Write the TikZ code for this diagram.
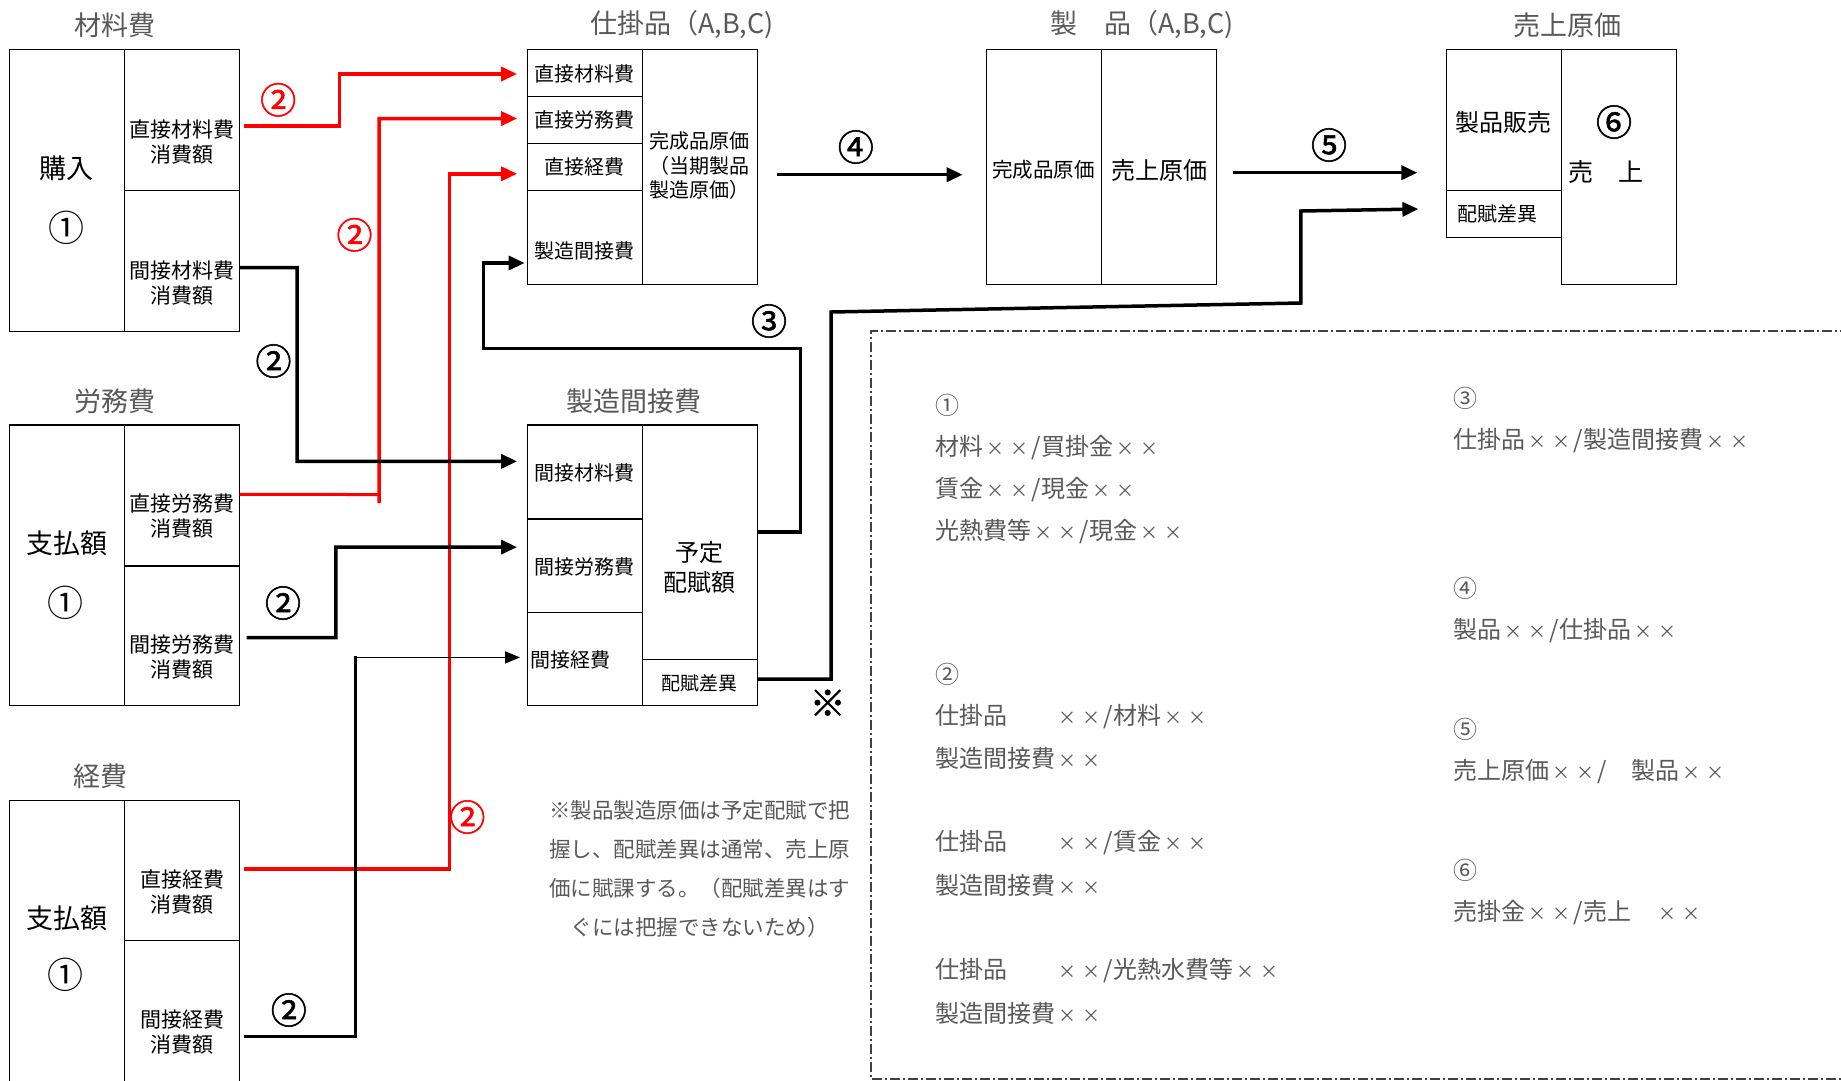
\documentclass[tikz,border=0pt]{standalone}
\usepackage{fontspec}
\newfontfamily\jp{Noto Sans CJK JP}
\newfontfamily\jpb[FakeBold=1.5]{Noto Sans CJK JP}
\usetikzlibrary{arrows.meta,calc}
\definecolor{txtgray}{HTML}{595959}
\definecolor{jred}{HTML}{FF0000}
\definecolor{boxline}{HTML}{404040}
\newcommand{\xx}{\makebox[1em]{\fontsize{18}{20}\selectfont ×}}
\newcommand{\fs}[2]{\fontsize{#1}{#2}\selectfont}
\newcommand{\cellbox}[5]{\node[cell, minimum width={#4-#2}, minimum height={#5-#3}] (#1) at (#2,#3) {};}
\begin{document}
\begin{tikzpicture}[x=1pt,y=-1pt,
  cell/.style={draw, line width=1.2pt, inner sep=0pt, outer sep=0pt, anchor=north west},
  ttl/.style={text=txtgray, font=\jp\fs{27}{32}, inner sep=0pt},
  lbl/.style={font=\jp\fs{21}{25}, align=center, inner sep=0pt},
  big/.style={font=\jp\fs{27}{32}, inner sep=0pt},
  num/.style={font=\jpb\fs{36}{38}, inner sep=0pt},
  rnum/.style={num, text=jred},
  flow/.style={line width=3.5pt, -{Triangle[length=16pt,width=14pt]}},
  rflow/.style={flow, draw=jred},
  thinflow/.style={line width=1.2pt, -{Triangle[length=15pt,width=12pt]}},
  plain/.style={line width=3.5pt},
  rplain/.style={line width=3pt, draw=jred},
  jrnl/.style={anchor=west, text=txtgray, font=\jp\fs{24}{28}, inner sep=0pt},
  dashdot/.style={line width=1.3pt, draw=boxline, dash pattern=on 10pt off 3pt on 2pt off 3pt},
]
\fill[white] (0,0) rectangle (1841,1080);
\useasboundingbox (0,0) rectangle (1841,1080);

% ---------------- boxes ----------------
% 材料費
\cellbox{m1}{9.4}{49.3}{124.4}{331.1}
\cellbox{m2}{124.4}{49.3}{239.5}{190.2}
\cellbox{m3}{124.4}{190.2}{239.5}{331.1}
% 労務費
\cellbox{r1}{9.4}{425}{124.4}{705.6}
\cellbox{r2}{124.4}{425}{239.5}{565.9}
\cellbox{r3}{124.4}{565.9}{239.5}{705.6}
% 経費
\cellbox{k1}{9.4}{800.7}{124.4}{1084}
\cellbox{k2}{124.4}{800.7}{239.5}{940.4}
\cellbox{k3}{124.4}{940.4}{239.5}{1084}
% 仕掛品
\cellbox{w1}{527.1}{49.3}{642.2}{96.3}
\cellbox{w2}{527.1}{96.3}{642.2}{143.2}
\cellbox{w3}{527.1}{143.2}{642.2}{190.2}
\cellbox{w4}{527.1}{190.2}{642.2}{284.1}
\cellbox{w5}{642.2}{49.3}{757.2}{284.1}
% 製造間接費
\cellbox{o1}{527.1}{425}{642.2}{518.9}
\cellbox{o2}{527.1}{518.9}{642.2}{612.8}
\cellbox{o3}{527.1}{612.8}{642.2}{705.6}
\cellbox{o4}{642.2}{425}{757.2}{659.8}
\cellbox{o5}{642.2}{659.8}{757.2}{705.6}
% 製品
\cellbox{p1}{986.2}{49.3}{1101.2}{284.1}
\cellbox{p2}{1101.2}{49.3}{1216.3}{284.1}
% 売上原価
\cellbox{s1}{1446.4}{49.3}{1561.4}{190.2}
\cellbox{s2}{1446.4}{190.2}{1561.4}{237.1}
\cellbox{s3}{1561.4}{49.3}{1676.5}{284.1}

% ---------------- titles ----------------
\node[ttl] (t1) at (115,25) {材料費};
\node[ttl, anchor=west] (t2) at (590,25) {仕掛品（A,B,C)};
\node[ttl, anchor=west] (t3) at (1050,25) {製　品（A,B,C)};
\node[ttl] (t4) at (1567,25) {売上原価};
\node[ttl] (t5) at (115,401) {労務費};
\node[ttl] (t6) at (634,401) {製造間接費};
\node[ttl] (t7) at (100,776) {経費};

% ---------------- box texts ----------------
\node[big] (m1a) at (66.9,168) {購入};
\node[big, font=\jp\fs{36}{38}] (m1b) at (66.9,228) {①};
\node[lbl] (m2a) at (182,142.5) {直接材料費\\消費額};
\node[lbl] (m3a) at (182,283.5) {間接材料費\\消費額};
\node[big] (r1a) at (66.9,543) {支払額};
\node[big, font=\jp\fs{36}{38}] (r1b) at (65,603) {①};
\node[lbl] (r2a) at (182,516.5) {直接労務費\\消費額};
\node[lbl] (r3a) at (182,657.5) {間接労務費\\消費額};
\node[big] (k1a) at (66.9,918) {支払額};
\node[big, font=\jp\fs{36}{38}] (k1b) at (65,975) {①};
\node[lbl] (k2a) at (182,892.5) {直接経費\\消費額};
\node[lbl] (k3a) at (182,1032.5) {間接経費\\消費額};

\node[lbl, font=\jp\fs{20}{24}] (w1a) at (584.6,74) {直接材料費};
\node[lbl, font=\jp\fs{20}{24}] (w2a) at (584.6,120) {直接労務費};
\node[lbl, font=\jp\fs{20}{24}] (w3a) at (584.6,167) {直接経費};
\node[lbl, font=\jp\fs{20}{24}] (w4a) at (584.6,251) {製造間接費};
\node[lbl, font=\jp\fs{20}{24.5}] (w5a) at (699.7,166) {完成品原価\\（当期製品\\製造原価）};

\node[lbl, font=\jp\fs{20}{24}] (o1a) at (584.6,473) {間接材料費};
\node[lbl, font=\jp\fs{20}{24}] (o2a) at (584.6,567) {間接労務費};
\node[lbl, font=\jp\fs{20}{24}, anchor=west] (o3a) at (530,660) {間接経費};
\node[lbl, font=\jp\fs{24}{30}] (o4a) at (699.7,567) {予定\\配賦額};
\node[lbl, font=\jp\fs{19}{24}] (o5a) at (699.7,683) {配賦差異};

\node[lbl, font=\jp\fs{20.5}{24}] (p1a) at (1043.7,170) {完成品原価};
\node[lbl, font=\jp\fs{24}{28}] (p2a) at (1159.7,170) {売上原価};

\node[lbl, font=\jp\fs{24}{28}] (s1a) at (1503,122) {製品販売};
\node[lbl, font=\jp\fs{20}{24}] (s2a) at (1497,214) {配賦差異};
\node[num] (s3a) at (1614,122) {⑥};
\node[lbl, font=\jp\fs{25}{28}] (s3b) at (1606,172) {売　上};

% ---------------- connectors ----------------
% red (direct costs)
\draw[rflow] ($(m2.east)+(4,6)$) -| (339.3,74) -- ($(w1.west)+(-10,1.2)$);
\draw[rplain] ($(r2.east)+(0,-1)$) -- (379.2,494.5);
\draw[rflow] (379.2,503) -- (379.2,118.6) -- ($(w2.west)+(-10,-1.2)$);
\draw[rflow] ($(k2.east)+(4,-1.75)$) -| (449.6,173.8) -- ($(w3.west)+(-10,7.1)$);
% black (indirect costs)
\draw[flow] ($(m3.east)+(0,7)$) -| (297,461.4) -- ($(o1.west)+(-10,-10.6)$);
\draw[flow] ($(r3.east)+(7,1.75)$) -| (335.8,547.1) -- ($(o2.west)+(-10,-18.75)$);
\draw[plain] ($(k3.east)+(4.7,24.3)$) -| (355.7,655.5);
\draw[thinflow] (355.7,657.4) -- ($(o3.west)+(-7,-1.8)$);
% ③
\draw[flow] ($(o4.east)+(0,-10.6)$) -| (800.7,348.7) -| (483.7,263) -- ($(w4.west)+(-2.5,25.85)$);
% ④ ⑤
\draw[flow] ($(w5.east)+(20,8)$) -- ($(p1.west)+(-23.5,8)$);
\draw[flow] ($(p2.east)+(16.4,6)$) -- ($(s1.south west)+(-29,-17.5)$);
% 配賦差異
\draw[flow] ($(o5.east)+(0,-3.7)$) -- (831.2,679) -- (831.2,312) -- (1300.8,303) -- (1300.8,211) -- ($(s2.west)+(-28,-4.6)$);

% ---------------- connector labels ----------------
\node[rnum] (l1) at (278.2,99.8) {②};
\node[rnum] (l2) at (354.5,234.8) {②};
\node[rnum] (l3) at (467.3,817) {②};
\node[num] (l4) at (273.5,361) {②};
\node[num] (l5) at (283,603) {②};
\node[num] (l6) at (288.8,1010) {②};
\node[num] (l7) at (769,321) {③};
\node[num] (l8) at (855.8,147) {④};
\node[num] (l9) at (1329,145) {⑤};
\node[font=\jpb\fs{36}{38}, inner sep=0pt] (l10) at (827.7,703) {※};

% ---------------- note ----------------
\node[text=txtgray, font=\jp\fs{21.5}{39.2}, align=center, inner sep=0pt] (note) at (699.7,869)
  {※製品製造原価は予定配賦で把\\握し、配賦差異は通常、売上原\\価に賦課する。（配賦差異はす\\ぐには把握できないため）};

% ---------------- journal box ----------------
\draw[dashdot] (1850,331.1) -- (871.1,331.1) -- (871.1,1079) -- (1850,1079);

\node[jrnl] (j1) at (935.7,405) {①};
\node[jrnl] (j2) at (935.7,447.3) {材料\xx\xx/買掛金\xx\xx};
\node[jrnl] (j3) at (935.7,489.6) {賃金\xx\xx/現金\xx\xx};
\node[jrnl] (j4) at (935.7,531.8) {光熱費等\xx\xx/現金\xx\xx};
\node[jrnl] (j5) at (935.7,673.9) {②};
\node[jrnl] (j6) at (935.7,716.1) {仕掛品　　\xx\xx/材料\xx\xx};
\node[jrnl] (j7) at (935.7,758.4) {製造間接費\xx\xx};
\node[jrnl] (j8) at (935.7,842.9) {仕掛品　　\xx\xx/賃金\xx\xx};
\node[jrnl] (j9) at (935.7,885.2) {製造間接費\xx\xx};
\node[jrnl] (j10) at (935.7,970.9) {仕掛品　　\xx\xx/光熱水費等\xx\xx};
\node[jrnl] (j11) at (935.7,1013.2) {製造間接費\xx\xx};

\node[jrnl] (j12) at (1453.4,398) {③};
\node[jrnl] (j13) at (1453.4,440.3) {仕掛品\xx\xx/製造間接費\xx\xx};
\node[jrnl] (j14) at (1453.4,588.2) {④};
\node[jrnl] (j15) at (1453.4,630.4) {製品\xx\xx/仕掛品\xx\xx};
\node[jrnl] (j16) at (1453.4,729) {⑤};
\node[jrnl] (j17) at (1453.4,771.3) {売上原価\xx\xx/　製品\xx\xx};
\node[jrnl] (j18) at (1453.4,870) {⑥};
\node[jrnl] (j19) at (1453.4,912.2) {売掛金\xx\xx/売上　\xx\xx};
\end{tikzpicture}
\end{document}
